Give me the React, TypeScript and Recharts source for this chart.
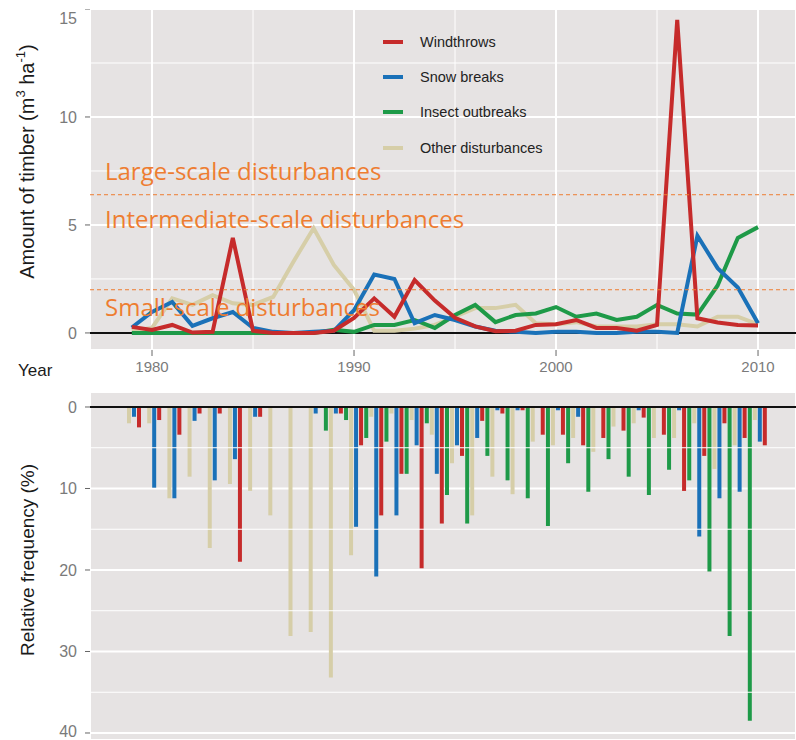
import React from 'react';
import {
  LineChart, Line, BarChart, Bar, XAxis, YAxis, CartesianGrid,
  ReferenceLine, Legend, Label,
} from 'recharts';

// years covered by both panels
const YEARS = [
  1979, 1980, 1981, 1982, 1983, 1984, 1985, 1986, 1987, 1988, 1989,
  1990, 1991, 1992, 1993, 1994, 1995, 1996, 1997, 1998, 1999,
  2000, 2001, 2002, 2003, 2004, 2005, 2006, 2007, 2008, 2009, 2010,
];

// amount of damaged timber, m3 per ha
const WIND_VOL = [0.28, 0.14, 0.37, 0.02, 0.05, 4.4, 0.1, 0, 0, 0, 0.1, 0.7, 1.6, 0.75, 2.45, 1.5, 0.7, 0.3, 0.08, 0.1, 0.37, 0.4, 0.6, 0.23, 0.23, 0.1, 0.37, 14.5, 0.68, 0.48, 0.37, 0.35];
const SNOW_VOL = [0.25, 0.97, 1.43, 0.33, 0.68, 0.97, 0.23, 0.05, 0, 0.05, 0.1, 1.05, 2.7, 2.5, 0.45, 0.83, 0.6, 0.3, 0.1, 0.05, 0, 0.05, 0.05, 0, 0, 0.05, 0.05, 0, 4.5, 3.0, 2.1, 0.45];
const INSECT_VOL = [0, 0, 0, 0, 0, 0, 0, 0, 0, 0, 0.15, 0.05, 0.37, 0.37, 0.6, 0.23, 0.83, 1.3, 0.5, 0.83, 0.9, 1.2, 0.75, 0.9, 0.6, 0.75, 1.3, 0.9, 0.85, 2.2, 4.4, 4.9];
const OTHER_VOL = [0.1, 0.23, 1.6, 1.3, 1.75, 1.37, 1.3, 1.67, 3.3, 4.85, 3.15, 2.0, 0.1, 0.1, 0.2, 0.37, 0.75, 1.15, 1.15, 1.3, 0.45, 0.4, 0.5, 0.3, 0.3, 0.3, 0.4, 0.4, 0.3, 0.75, 0.75, 0.4];

// relative frequency of events, %
const WIND_FREQ = [2.5, 1.6, 3.4, 0.8, 0.8, 19.0, 1.2, 0, 0, 0, 0.8, 4.7, 13.3, 8.2, 19.8, 14.3, 6.0, 1.7, 0.8, 0.4, 3.4, 3.4, 4.7, 3.8, 2.9, 1.3, 3.4, 10.3, 6.0, 2.0, 3.8, 4.7];
const SNOW_FREQ = [1.2, 9.9, 11.2, 1.7, 9.0, 6.4, 1.2, 0, 0, 0.8, 0.8, 14.7, 20.8, 13.3, 4.7, 8.2, 4.7, 3.8, 0.4, 0.4, 0, 0.4, 1.2, 0, 0, 0.4, 0, 0.4, 15.9, 11.2, 10.4, 4.25];
const INSECT_FREQ = [0, 0, 0, 0, 0, 0, 0, 0, 0, 0, 2.9, 1.6, 3.8, 4.25, 8.2, 2.0, 10.8, 14.3, 6.0, 9.0, 11.2, 14.6, 6.9, 10.4, 6.4, 8.55, 10.8, 7.7, 9.0, 20.2, 28.1, 38.5];
const OTHER_FREQ = [2.0, 2.0, 11.2, 8.55, 17.3, 9.45, 10.3, 13.3, 28.1, 27.6, 33.2, 18.2, 1.2, 0.8, 1.6, 3.4, 6.9, 13.3, 8.55, 10.7, 4.25, 4.7, 3.8, 5.5, 2.4, 2.0, 3.8, 3.8, 2.0, 7.6, 4.7, 1.6];

// disturbance-size thresholds (m3 per ha)
const LARGE_SCALE = 6.4;
const SMALL_SCALE = 2.0;

const DECADES = [1980, 1990, 2000, 2010];
const HALF_DECADES = [1985, 1995, 2005];
const VOL_TICKS = [0, 5, 10, 15];
const VOL_MINOR = [2.5, 7.5, 12.5];
const FREQ_TICKS = [0, 10, 20, 30, 40];
const FREQ_MINOR = [5, 15, 25, 35];

const RED = '#c62b2b';
const BLUE = '#1a71b8';
const GREEN = '#1e9a48';
const TAN = '#d6cea8';
const ORANGE = '#ee7d31';
const PANEL = '#e6e3e3';
const SANS = "'Liberation Sans', Arial, sans-serif";

const SERIES = [
  { key: 'wind', name: 'Windthrows', color: RED },
  { key: 'snow', name: 'Snow breaks', color: BLUE },
  { key: 'insect', name: 'Insect outbreaks', color: GREEN },
  { key: 'other', name: 'Other disturbances', color: TAN },
];

const volumeRows = YEARS.map((year, i) => ({
  year, wind: WIND_VOL[i], snow: SNOW_VOL[i], insect: INSECT_VOL[i], other: OTHER_VOL[i],
}));
const freqRows = YEARS.map((year, i) => ({
  year, wind: WIND_FREQ[i], snow: SNOW_FREQ[i], insect: INSECT_FREQ[i], other: OTHER_FREQ[i],
}));

const YEAR_DOMAIN: [number, number] = [1976.93, 2011.88];

const tickStyle = { fill: '#7a7a7a', fontSize: 16 };

const bandText = (rows: { text: string; dy: number }[]) => (props: any) => {
  const { x, y } = props.viewBox;
  return (
    <g>
      {rows.map((r) => (
        <text key={r.text} x={x + 15} y={y + r.dy} fill={ORANGE} fontSize={24}
          fontFamily="'Open Sans', Lato, sans-serif">
          {r.text}
        </text>
      ))}
    </g>
  );
};

const AmountTitle = (props: any) => {
  const { x, y, height } = props.viewBox;
  const cx = x - 3;
  const cy = y + height / 2 - 18;
  return (
    <text transform={`translate(${cx},${cy}) rotate(-90)`} textAnchor="middle"
      dominantBaseline="central" fontSize={20} fill="#1a1a1a" fontFamily={SANS}>
      Amount of timber (m<tspan dy={-7} fontSize={13}>3</tspan>
      <tspan dy={7}> ha</tspan><tspan dy={-7} fontSize={13}>-1</tspan>
      <tspan dy={7}>)</tspan>
    </text>
  );
};

const FreqTitle = (props: any) => {
  const { x, y, height } = props.viewBox;
  const cx = x - 3;
  const cy = y + height / 2 - 6;
  return (
    <text transform={`translate(${cx},${cy}) rotate(-90)`} textAnchor="middle"
      dominantBaseline="central" fontSize={19} fill="#1a1a1a" fontFamily={SANS}>
      Relative frequency (%)
    </text>
  );
};

const YearTitle = (props: any) => {
  const { y } = props.viewBox;
  return (
    <text x={18} y={y + 26} fontSize={17} fill="#1a1a1a" fontFamily={SANS}>Year</text>
  );
};

const SeriesKey = () => (
  <div style={{ fontFamily: SANS, fontSize: 14.5, color: '#222' }}>
    {SERIES.map((s) => (
      <div key={s.key} style={{ display: 'flex', alignItems: 'center', height: 35.3 }}>
        <span style={{ display: 'inline-block', width: 20, height: 4, background: s.color, marginRight: 17 }} />
        {s.name}
      </div>
    ))}
  </div>
);

export default function App() {
  return (
    <div style={{ position: 'absolute', left: 0, top: 0, width: 796, height: 740, overflow: 'hidden', background: '#fff', fontFamily: SANS }}>
      <div style={{ position: 'absolute', left: 0, top: 9 }}>
        <LineChart width={796} height={372} data={volumeRows}
          margin={{ top: 0, right: 0, bottom: 0, left: 30 }}>
          <CartesianGrid fill={PANEL} stroke="#fff" strokeWidth={2} />
          {VOL_MINOR.map((v) => <ReferenceLine key={`y${v}`} y={v} stroke="#fff" strokeWidth={1} />)}
          {HALF_DECADES.map((v) => <ReferenceLine key={`x${v}`} x={v} stroke="#fff" strokeWidth={1} />)}
          <XAxis dataKey="year" type="number" domain={YEAR_DOMAIN} allowDataOverflow ticks={DECADES}
            height={31} axisLine={false} tickSize={6} tickMargin={5}
            tickLine={{ stroke: '#666' }} tick={{ fill: '#7a7a7a', fontSize: 15 }}>
            <Label content={YearTitle} />
          </XAxis>
          <YAxis domain={[-0.79, 15]} allowDataOverflow ticks={VOL_TICKS} width={60}
            axisLine={false} tickSize={5} tickMargin={8} tickLine={{ stroke: '#666' }} tick={tickStyle}>
            <Label content={AmountTitle} />
          </YAxis>
          <Legend layout="horizontal" verticalAlign="middle" align="center" content={SeriesKey}
            wrapperStyle={{ left: 383, top: 15, width: 220, height: 145 }} />
          <ReferenceLine y={0} stroke="#111" strokeWidth={2} />
          <Line type="linear" dataKey="other" stroke={TAN} strokeWidth={4} dot={false} isAnimationActive={false} />
          <Line type="linear" dataKey="insect" stroke={GREEN} strokeWidth={4} dot={false} isAnimationActive={false} />
          <Line type="linear" dataKey="snow" stroke={BLUE} strokeWidth={4} dot={false} isAnimationActive={false} />
          <Line type="linear" dataKey="wind" stroke={RED} strokeWidth={4} dot={false} isAnimationActive={false} />
          <ReferenceLine y={LARGE_SCALE} stroke={ORANGE} strokeDasharray="4 3"
            label={bandText([
              { text: 'Large-scale disturbances', dy: -15 },
              { text: 'Intermediate-scale disturbances', dy: 33 },
            ])} />
          <ReferenceLine y={SMALL_SCALE} stroke={ORANGE} strokeDasharray="4 3"
            label={bandText([{ text: 'Small-scale disturbances', dy: 26 }])} />
        </LineChart>
      </div>

      <div style={{ position: 'absolute', left: 0, top: 380 }}>
        <BarChart width={796} height={360} data={freqRows} barCategoryGap={0} barGap={1}
          margin={{ top: 0, right: 0, bottom: 0, left: 30 }}>
          <CartesianGrid xAxisId="yr" fill={PANEL} stroke="#fff" strokeWidth={2} />
          {FREQ_MINOR.map((v) => <ReferenceLine key={`y${v}`} y={v} stroke="#fff" strokeWidth={1} />)}
          {HALF_DECADES.map((v) => <ReferenceLine key={`x${v}`} xAxisId="yr" x={v} stroke="#fff" strokeWidth={1} />)}
          <XAxis dataKey="year" type="category" hide padding={{ left: 32, right: 28 }} />
          <XAxis xAxisId="yr" type="number" orientation="top" domain={YEAR_DOMAIN} allowDataOverflow
            ticks={DECADES} height={12} axisLine={false} tickSize={5} tickLine={{ stroke: '#666' }}
            tickFormatter={() => ''} />
          <YAxis reversed domain={[-1.84, 40.86]} allowDataOverflow ticks={FREQ_TICKS} width={60}
            axisLine={false} tickSize={5} tickMargin={8} tickLine={{ stroke: '#666' }} tick={tickStyle}>
            <Label content={FreqTitle} />
          </YAxis>
          <Bar dataKey="insect" fill={GREEN} isAnimationActive={false} />
          <Bar dataKey="other" fill={TAN} isAnimationActive={false} />
          <Bar dataKey="snow" fill={BLUE} isAnimationActive={false} />
          <Bar dataKey="wind" fill={RED} isAnimationActive={false} />
          <ReferenceLine y={0} stroke="#111" strokeWidth={2} />
        </BarChart>
      </div>
    </div>
  );
}
